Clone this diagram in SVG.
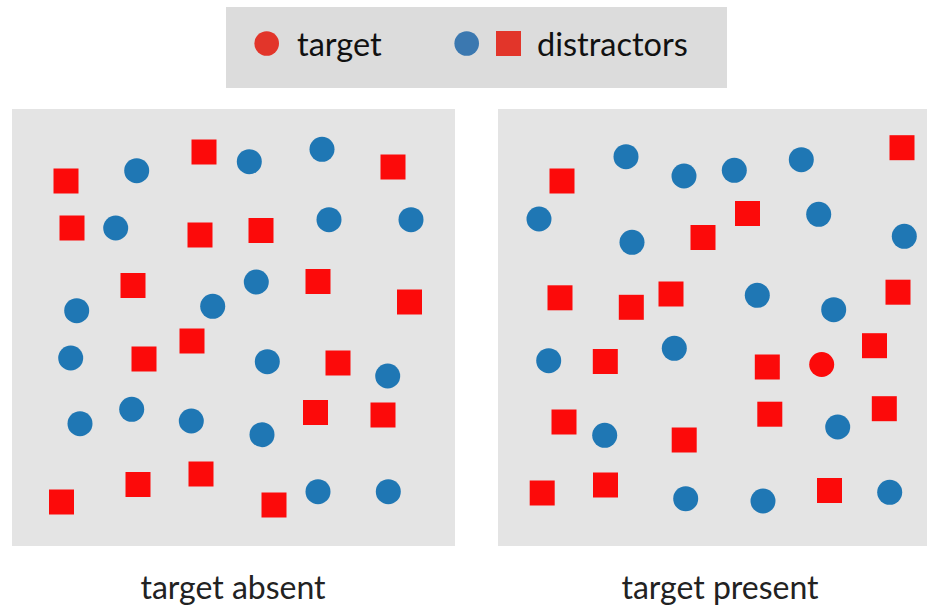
<svg xmlns="http://www.w3.org/2000/svg" width="927" height="605" viewBox="0 0 927 605">
  <defs>
    <style>
      .panel { fill: #e4e4e4; }
      .legend-bg { fill: #dcdcdc; }
      .sq { fill: #fc0a0a; }
      .dot { fill: #1f77b4; }
      .tgt { fill: #fc0a0a; }
      .lg-red { fill: #e2352a; }
      .lg-blue { fill: #3b78b0; }
      .lbl { font-family: Lato, "Liberation Sans", sans-serif; font-size: 32.5px; fill: #111111; }
      .cap { font-family: Lato, "Liberation Sans", sans-serif; font-size: 32px; fill: #222222; text-anchor: middle; }
    </style>
    <rect id="s" class="sq" x="-12.5" y="-12.5" width="25" height="25"/>
    <circle id="c" class="dot" r="12.5"/>
  </defs>
  <rect width="927" height="605" fill="#ffffff"/>

  <!-- legend -->
  <g id="legend">
    <rect class="legend-bg" x="226" y="7" width="501" height="81"/>
    <circle class="lg-red" cx="266.7" cy="43.5" r="12.3"/>
    <text class="lbl" x="297" y="56">target</text>
    <circle class="lg-blue" cx="466.7" cy="43.5" r="12.3"/>
    <rect class="lg-red" x="496" y="31" width="25" height="25"/>
    <text class="lbl" x="537" y="56">distractors</text>
  </g>

  <!-- left display: no target -->
  <g id="panel-absent">
    <rect class="panel" x="12" y="109" width="443" height="437"/>
    <use href="#s" x="66" y="181"/>
    <use href="#s" x="204" y="152"/>
    <use href="#s" x="72" y="228"/>
    <use href="#s" x="200" y="235"/>
    <use href="#s" x="133" y="285.5"/>
    <use href="#s" x="261" y="230.5"/>
    <use href="#s" x="318" y="281.5"/>
    <use href="#s" x="393" y="167"/>
    <use href="#s" x="409.5" y="302"/>
    <use href="#s" x="144" y="359"/>
    <use href="#s" x="192" y="341"/>
    <use href="#s" x="61.5" y="502"/>
    <use href="#s" x="138" y="484.5"/>
    <use href="#s" x="201" y="474"/>
    <use href="#s" x="338" y="363"/>
    <use href="#s" x="315.5" y="412.5"/>
    <use href="#s" x="383" y="415"/>
    <use href="#s" x="274" y="505"/>
    <use href="#c" x="136.7" y="170.7"/>
    <use href="#c" x="115.7" y="228"/>
    <use href="#c" x="76.7" y="310.7"/>
    <use href="#c" x="212.7" y="306.3"/>
    <use href="#c" x="249.3" y="161.7"/>
    <use href="#c" x="322" y="149.3"/>
    <use href="#c" x="329" y="219.7"/>
    <use href="#c" x="411" y="219.7"/>
    <use href="#c" x="256.3" y="282"/>
    <use href="#c" x="70.7" y="358"/>
    <use href="#c" x="80" y="423.7"/>
    <use href="#c" x="131.7" y="409.3"/>
    <use href="#c" x="191.3" y="421"/>
    <use href="#c" x="267.3" y="361.7"/>
    <use href="#c" x="387.7" y="376"/>
    <use href="#c" x="262" y="434.7"/>
    <use href="#c" x="318" y="491.7"/>
    <use href="#c" x="388.3" y="491.7"/>
  </g>

  <!-- right display: target included -->
  <g id="panel-present">
    <rect class="panel" x="498" y="109" width="429" height="437"/>
    <use href="#s" x="562" y="181"/>
    <use href="#s" x="902" y="147.7"/>
    <use href="#s" x="747.5" y="213.5"/>
    <use href="#s" x="703" y="237.5"/>
    <use href="#s" x="560" y="297.8"/>
    <use href="#s" x="631.3" y="307.3"/>
    <use href="#s" x="671" y="294"/>
    <use href="#s" x="898" y="292.2"/>
    <use href="#s" x="605.3" y="361.5"/>
    <use href="#s" x="767.3" y="367"/>
    <use href="#s" x="874.5" y="345.7"/>
    <use href="#s" x="564" y="422"/>
    <use href="#s" x="684.2" y="440"/>
    <use href="#s" x="769.8" y="414.2"/>
    <use href="#s" x="884.3" y="408.7"/>
    <use href="#s" x="542.2" y="493"/>
    <use href="#s" x="605.5" y="485"/>
    <use href="#s" x="829.5" y="490.5"/>
    <use href="#c" x="626" y="156.7"/>
    <use href="#c" x="684" y="176"/>
    <use href="#c" x="734.3" y="170.3"/>
    <use href="#c" x="801.3" y="159.7"/>
    <use href="#c" x="539" y="219"/>
    <use href="#c" x="632" y="242.3"/>
    <use href="#c" x="818.7" y="214.3"/>
    <use href="#c" x="904.3" y="236.3"/>
    <use href="#c" x="757.3" y="295.3"/>
    <use href="#c" x="833.7" y="309.7"/>
    <use href="#c" x="548.7" y="360.7"/>
    <use href="#c" x="674.3" y="348.3"/>
    <use href="#c" x="604.7" y="435.3"/>
    <use href="#c" x="837.7" y="427"/>
    <use href="#c" x="685.7" y="498.7"/>
    <use href="#c" x="763" y="501"/>
    <use href="#c" x="889.7" y="492.3"/>
    <circle class="tgt" cx="821.7" cy="364.5" r="12.5"/>
  </g>

  <!-- captions -->
  <text class="cap" x="233" y="599">target absent</text>
  <text class="cap" x="720" y="599">target present</text>
</svg>
